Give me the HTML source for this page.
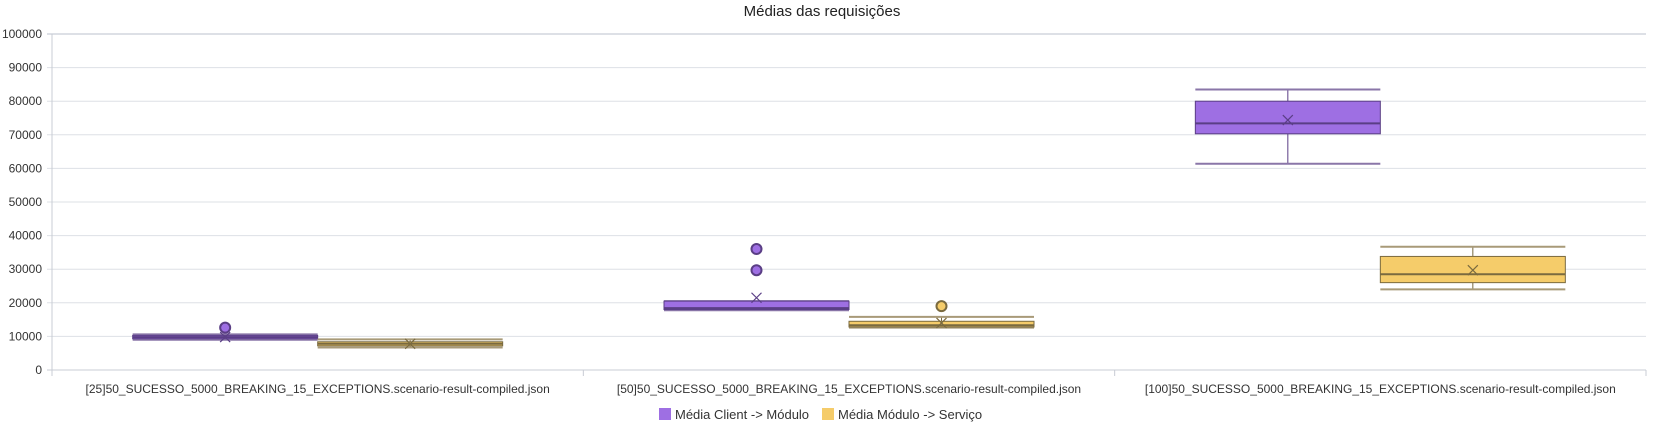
<!DOCTYPE html>
<html><head><meta charset="utf-8"><style>
body{margin:0;background:#fff;}
svg{display:block;font-family:"Liberation Sans",sans-serif;}
</style></head><body>
<svg id="chart" width="1665" height="429" viewBox="0 0 1665 429" xmlns="http://www.w3.org/2000/svg">
<text x="822" y="16" text-anchor="middle" font-size="15" fill="#222">Médias das requisições</text>
<g id="grid"></g><g id="axes"></g><g id="marks"></g>
<g>
<rect x="659" y="408" width="12" height="12" fill="#9e6fe3"/>
<text x="675" y="419" font-size="13" fill="#333">Média Client -&gt; Módulo</text>
<rect x="822" y="408" width="12" height="12" fill="#f5cc6a"/>
<text x="838" y="419" font-size="13" fill="#333">Média Módulo -&gt; Serviço</text>
</g>
</svg>
<script>
const categories=["[25]50_SUCESSO_5000_BREAKING_15_EXCEPTIONS.scenario-result-compiled.json","[50]50_SUCESSO_5000_BREAKING_15_EXCEPTIONS.scenario-result-compiled.json","[100]50_SUCESSO_5000_BREAKING_15_EXCEPTIONS.scenario-result-compiled.json"];
const yTicks=[0,10000,20000,30000,40000,50000,60000,70000,80000,90000,100000];
const clientMin=[9000,17800,61400];
const clientQ1=[9300,18000,70300];
const clientMedian=[9800,18400,73400];
const clientQ3=[10300,20500,80000];
const clientMax=[10600,20500,83500];
const clientMean=[9800,21500,74400];
const clientOutliers=[[12600],[29700,36000],[]];
const servMin=[6700,12600,24000];
const servQ1=[7200,12800,26000];
const servMedian=[7800,13300,28500];
const servQ3=[8400,14500,33800];
const servMax=[9100,15800,36700];
const servMean=[7800,14000,29700];
const servOutliers=[[],[19000],[]];

const NS="http://www.w3.org/2000/svg";
const X0=52,X1=1646,Y0=370,Y1=34;
const y=v=>Y0-(v/100000)*(Y0-Y1);
const band=(X1-X0)/categories.length;
const bw=185;
function mk(tag,attrs,parent){const e=document.createElementNS(NS,tag);for(const k in attrs)e.setAttribute(k,attrs[k]);parent.appendChild(e);return e;}
const grid=document.getElementById('grid'),axes=document.getElementById('axes'),marks=document.getElementById('marks');
yTicks.forEach(t=>{
  const l=mk('line',{x1:X0-5,x2:X1,y1:y(t),y2:y(t),stroke:t===0?'#c8ccd4':'#dde0e6','stroke-width':t===100000?2:1},grid);
  
  
  const tx=mk('text',{x:X0-10,y:y(t)+4,'text-anchor':'end','font-size':12,fill:'#333'},axes);
  tx.textContent=t;
  
  
});
const ya=mk('line',{x1:X0,x2:X0,y1:Y1,y2:Y0+5,stroke:'#c8ccd4'},axes);


for(let i=0;i<=categories.length;i++){
  const t=mk('line',{x1:X0+i*band,x2:X0+i*band,y1:Y0,y2:Y0+6,stroke:'#c8ccd4'},axes);
  
  
}
categories.forEach((c,i)=>{
  const tx=mk('text',{x:X0+(i+0.5)*band,y:393,'text-anchor':'middle','font-size':12,fill:'#333'},axes);
  tx.textContent=c;
  
  
});
function drawBox(i,j,mn,q1,md,q3,mx,mean,outs,fill,stroke,cap,name){
  const bx=X0+(i+0.5)*band-bw+j*bw, cx=bx+bw/2;
  const g=mk('g',{},marks);
  
  
  mk('line',{x1:cx,x2:cx,y1:y(mx),y2:y(mn),stroke:stroke,'stroke-width':1},g);
  mk('line',{x1:bx,x2:bx+bw,y1:y(mx),y2:y(mx),stroke:cap,'stroke-width':2},g);
  mk('line',{x1:bx,x2:bx+bw,y1:y(mn),y2:y(mn),stroke:cap,'stroke-width':2},g);
  mk('rect',{x:bx,y:y(q3),width:bw,height:Math.max(1,y(q1)-y(q3)),fill:fill,stroke:stroke,'stroke-width':1},g);
  mk('line',{x1:bx,x2:bx+bw,y1:y(md),y2:y(md),stroke:stroke,'stroke-width':2},g);
  const my=y(mean);
  mk('path',{d:`M${cx-5},${my-5}L${cx+5},${my+5}M${cx+5},${my-5}L${cx-5},${my+5}`,stroke:stroke,'stroke-width':1.2,fill:'none'},g);
  outs.forEach(o=>{
    const c=mk('circle',{cx:cx,cy:y(o),r:5,fill:fill,stroke:stroke,'stroke-width':2},marks);
    
    
  });
}
categories.forEach((c,i)=>{
  drawBox(i,0,clientMin[i],clientQ1[i],clientMedian[i],clientQ3[i],clientMax[i],clientMean[i],clientOutliers[i],'#9e6fe3','#5a3e85','#8a76a8','client');
  drawBox(i,1,servMin[i],servQ1[i],servMedian[i],servQ3[i],servMax[i],servMean[i],servOutliers[i],'#f5cc6a','#7a6a3f','#a89a78','servico');
});
</script>
</body></html>
